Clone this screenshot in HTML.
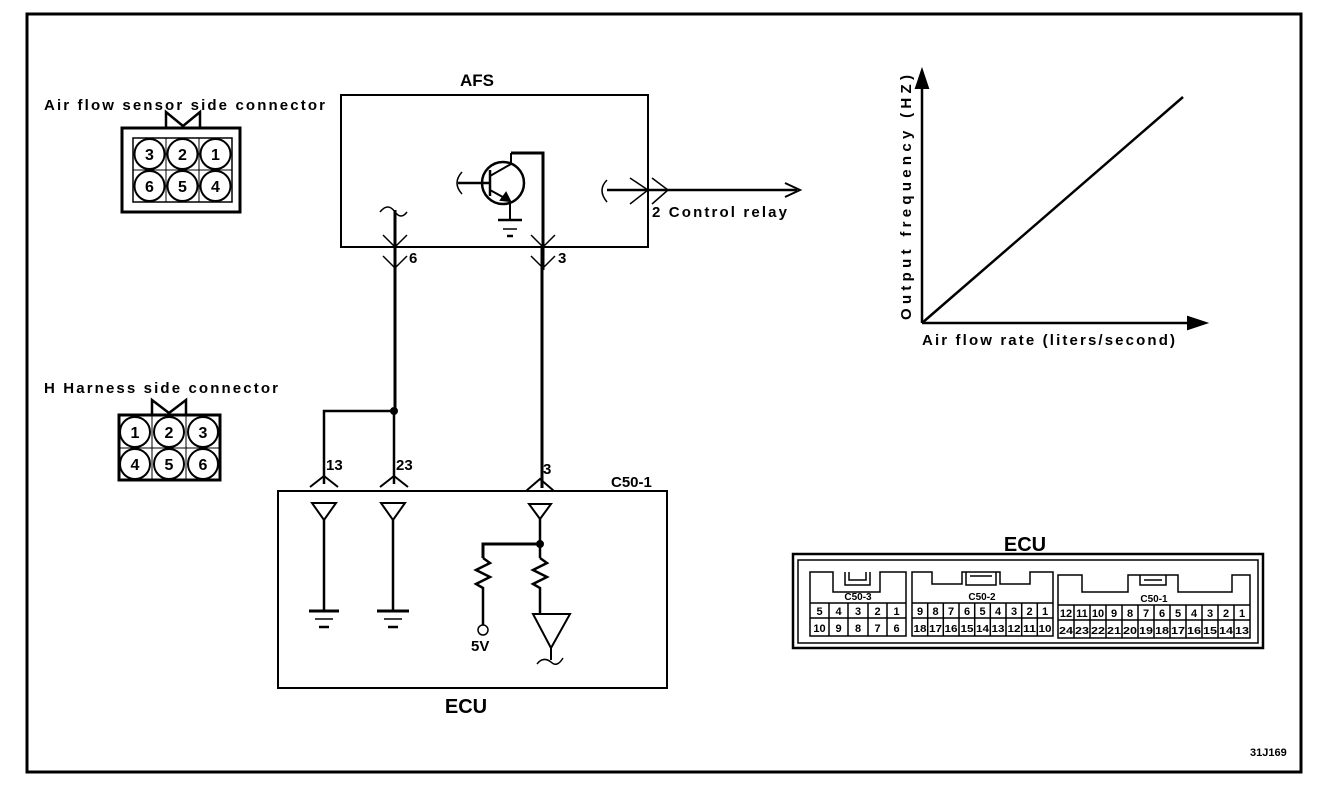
<!DOCTYPE html>
<html><head><meta charset="utf-8"><style>
html,body{margin:0;padding:0;background:#fff;}
svg{display:block;}
text{font-family:"Liberation Sans",sans-serif;font-weight:bold;fill:#000;}
</style></head><body>
<svg width="1344" height="786" viewBox="0 0 1344 786" xmlns="http://www.w3.org/2000/svg">
<g fill="none" stroke="#000" stroke-width="2">
<rect x="27" y="14" width="1274" height="758" stroke-width="3"/>

<rect x="122" y="128" width="118" height="84" stroke-width="3"/>
<rect x="133" y="138" width="99" height="64" stroke-width="1.5"/>
<line x1="166" y1="138" x2="166" y2="202" stroke-width="1"/>
<line x1="199" y1="138" x2="199" y2="202" stroke-width="1"/>
<line x1="133" y1="170" x2="232" y2="170" stroke-width="1"/>
<circle cx="149.5" cy="154" r="15"/><circle cx="182.5" cy="154" r="15"/><circle cx="215.5" cy="154" r="15"/>
<circle cx="149.5" cy="186" r="15"/><circle cx="182.5" cy="186" r="15"/><circle cx="215.5" cy="186" r="15"/>
<polyline points="166,128 166,112 183,126 200,112 200,128" stroke-width="2.5"/>

<rect x="119" y="415" width="101" height="65" stroke-width="3"/>
<line x1="152" y1="415" x2="152" y2="480" stroke-width="1"/>
<line x1="186" y1="415" x2="186" y2="480" stroke-width="1"/>
<line x1="119" y1="448" x2="220" y2="448" stroke-width="1"/>
<circle cx="135" cy="432" r="15"/><circle cx="169" cy="432" r="15"/><circle cx="203" cy="432" r="15"/>
<circle cx="135" cy="464" r="15"/><circle cx="169" cy="464" r="15"/><circle cx="203" cy="464" r="15"/>
<polyline points="152,415 152,400 169,413 186,400 186,415" stroke-width="2.5"/>

<rect x="341" y="95" width="307" height="152" stroke-width="2"/>
<circle cx="503" cy="183" r="21" stroke-width="2.5"/>
<line x1="458" y1="183" x2="490" y2="183" stroke-width="2.5"/>
<path d="M462,172 q-10,11 0,22" stroke-width="1.5"/>
<line x1="490" y1="170" x2="490" y2="196" stroke-width="2.5"/>
<line x1="490" y1="176" x2="511" y2="164" stroke-width="2"/>
<line x1="511" y1="164" x2="511" y2="153" stroke-width="2"/>
<polyline points="511,153 543,153 543,270" stroke-width="3"/>
<line x1="490" y1="190" x2="510" y2="201" stroke-width="2"/>
<polygon points="510,201 501,200 506,193" fill="#000"/>
<line x1="510" y1="201" x2="510" y2="220" stroke-width="2"/>
<line x1="498" y1="220" x2="522" y2="220" stroke-width="2.5"/>
<line x1="503" y1="229" x2="517" y2="229" stroke-width="1.5"/>
<line x1="507" y1="236" x2="513" y2="236" stroke-width="2.5"/>
<path d="M607,180 q-10,10 0,22" stroke-width="1.5"/>
<line x1="607" y1="190" x2="797" y2="190" stroke-width="2.5"/>
<polyline points="630,178 648,190 630,204" stroke-width="1.5"/>
<polyline points="652,178 668,190 652,204" stroke-width="1.5"/>
<polyline points="785,183 800,190 785,197" stroke-width="2"/>
<path d="M380,212 q8,-10 15,0 q6,8 12,0" stroke-width="1.5"/>
<line x1="395" y1="210" x2="395" y2="411" stroke-width="3"/>
<polyline points="383,235 395,247 407,235" stroke-width="1.5"/>
<polyline points="383,256 395,268 407,256" stroke-width="1.5"/>
<polyline points="531,235 543,247 555,235" stroke-width="1.5"/>
<polyline points="531,256 543,268 555,256" stroke-width="1.5"/>
<line x1="542" y1="247" x2="542" y2="488" stroke-width="3"/>

<circle cx="394" cy="411" r="3" fill="#000"/>
<polyline points="394,411 324,411 324,484" stroke-width="2.5"/>
<line x1="394" y1="411" x2="394" y2="484" stroke-width="2.5"/>
<polyline points="310,487 324,476 338,487" stroke-width="2"/>
<polyline points="380,487 394,476 408,487" stroke-width="2"/>
<polyline points="526,491 540,479 554,491" stroke-width="2"/>

<rect x="278" y="491" width="389" height="197" stroke-width="2"/>
<polygon points="312,503 336,503 324,520" stroke-width="2"/>
<polygon points="381,503 405,503 393,520" stroke-width="2"/>
<polygon points="529,504 551,504 540,519" stroke-width="2"/>
<line x1="324" y1="520" x2="324" y2="611" stroke-width="2.5"/>
<line x1="393" y1="520" x2="393" y2="611" stroke-width="2.5"/>
<line x1="309" y1="611" x2="339" y2="611" stroke-width="3"/>
<line x1="315" y1="619" x2="333" y2="619" stroke-width="1.5"/>
<line x1="319" y1="627" x2="329" y2="627" stroke-width="2.5"/>
<line x1="377" y1="611" x2="409" y2="611" stroke-width="3"/>
<line x1="384" y1="619" x2="402" y2="619" stroke-width="1.5"/>
<line x1="388" y1="627" x2="398" y2="627" stroke-width="2.5"/>
<line x1="540" y1="519" x2="540" y2="558" stroke-width="2.5"/>
<circle cx="540" cy="544" r="3" fill="#000"/>
<polyline points="540,544 483,544 483,558" stroke-width="3"/>
<polyline points="483,558 490,563 476,570 490,577 476,584 483,588 483,625" stroke-width="2.5"/>
<polyline points="540,558 547,563 533,570 547,577 533,584 540,588 540,614" stroke-width="2.5"/>
<circle cx="483" cy="630" r="5" stroke-width="1.5"/>
<polygon points="533,614 570,614 551,648" stroke-width="2"/>
<line x1="551" y1="648" x2="551" y2="660" stroke-width="2"/>
<path d="M537,664 q6,-8 14,-2 q6,6 12,-4" stroke-width="1.5"/>

<line x1="922" y1="80" x2="922" y2="323" stroke-width="2.5"/>
<polygon points="922,70 916,88 928,88" fill="#000"/>
<line x1="922" y1="323" x2="1195" y2="323" stroke-width="2.5"/>
<polygon points="1206,323 1188,317 1188,329" fill="#000"/>
<line x1="922" y1="323" x2="1183" y2="97" stroke-width="2.5"/>

<rect x="793" y="554" width="470" height="94" stroke-width="2.5"/>
<rect x="798" y="560" width="460" height="83" stroke-width="1.5"/>
<path d="M810,636 V572 H833 V592 H880 V572 H906 V636 Z" stroke-width="1.5"/>
<path d="M845,572 V585 H870 V572 M849,572 V580 H866 V572" stroke-width="1.5"/>
<path d="M912,636 V572 H932 V584 H962 V572 H1000 V584 H1030 V572 H1053 V636 Z" stroke-width="1.5"/>
<path d="M966,572 V585 H996 V572 M970,576 H992" stroke-width="1.5"/>
<path d="M1058,638 V575 H1082 V592 H1128 V575 H1178 V592 H1232 V575 H1250 V638 Z" stroke-width="1.5"/>
<path d="M1140,575 V585 H1166 V575 M1144,580 H1162" stroke-width="1.5"/>
<g stroke-width="1.5">
<line x1="810" y1="603" x2="906" y2="603"/><line x1="810" y1="618" x2="906" y2="618"/>
<line x1="912" y1="603" x2="1053" y2="603"/><line x1="912" y1="618" x2="1053" y2="618"/>
<line x1="1058" y1="605" x2="1250" y2="605"/><line x1="1058" y1="620" x2="1250" y2="620"/>
</g>
<g stroke-width="1.5">
<line x1="829" y1="603" x2="829" y2="636"/><line x1="848" y1="603" x2="848" y2="636"/><line x1="868" y1="603" x2="868" y2="636"/><line x1="887" y1="603" x2="887" y2="636"/>
<line x1="927.7" y1="603" x2="927.7" y2="636"/><line x1="943.3" y1="603" x2="943.3" y2="636"/><line x1="959" y1="603" x2="959" y2="636"/><line x1="974.7" y1="603" x2="974.7" y2="636"/><line x1="990.3" y1="603" x2="990.3" y2="636"/><line x1="1006" y1="603" x2="1006" y2="636"/><line x1="1021.7" y1="603" x2="1021.7" y2="636"/><line x1="1037.3" y1="603" x2="1037.3" y2="636"/>
<line x1="1074" y1="605" x2="1074" y2="638"/><line x1="1090" y1="605" x2="1090" y2="638"/><line x1="1106" y1="605" x2="1106" y2="638"/><line x1="1122" y1="605" x2="1122" y2="638"/><line x1="1138" y1="605" x2="1138" y2="638"/><line x1="1154" y1="605" x2="1154" y2="638"/><line x1="1170" y1="605" x2="1170" y2="638"/><line x1="1186" y1="605" x2="1186" y2="638"/><line x1="1202" y1="605" x2="1202" y2="638"/><line x1="1218" y1="605" x2="1218" y2="638"/><line x1="1234" y1="605" x2="1234" y2="638"/>
</g>
</g>

<g font-size="15">
<text x="44" y="110" textLength="281" lengthAdjust="spacing">Air flow sensor side connector</text>
<text x="44" y="393" textLength="234" lengthAdjust="spacing">H Harness side connector</text>
</g>
<g font-size="16" text-anchor="middle">
<text x="149.5" y="160">3</text><text x="182.5" y="160">2</text><text x="215.5" y="160">1</text>
<text x="149.5" y="192">6</text><text x="182.5" y="192">5</text><text x="215.5" y="192">4</text>
<text x="135" y="438">1</text><text x="169" y="438">2</text><text x="203" y="438">3</text>
<text x="135" y="470">4</text><text x="169" y="470">5</text><text x="203" y="470">6</text>
</g>
<text x="477" y="86" font-size="17" text-anchor="middle">AFS</text>
<text x="652" y="217" font-size="15" textLength="135" lengthAdjust="spacing">2 Control relay</text>
<text x="409" y="263" font-size="15">6</text>
<text x="558" y="263" font-size="15">3</text>
<text x="326" y="470" font-size="15">13</text>
<text x="396" y="470" font-size="15">23</text>
<text x="543" y="474" font-size="15">3</text>
<text x="611" y="487" font-size="15">C50-1</text>
<text x="471" y="651" font-size="15">5V</text>
<text x="466" y="713" font-size="20" text-anchor="middle">ECU</text>
<text x="1025" y="551" font-size="20" text-anchor="middle">ECU</text>
<text x="922" y="345" font-size="15" textLength="253" lengthAdjust="spacing">Air flow rate (liters/second)</text>
<text transform="translate(911,320) rotate(-90)" font-size="15" textLength="245" lengthAdjust="spacing">Output frequency (HZ)</text>
<text x="1250" y="756" font-size="11">31J169</text>

<g font-size="10" text-anchor="middle">
<text x="858" y="600">C50-3</text><text x="982" y="600">C50-2</text><text x="1154" y="602">C50-1</text>
</g>
<g font-size="11" text-anchor="middle">
<text x="819.5" y="615">5</text><text x="838.5" y="615">4</text><text x="858" y="615">3</text><text x="877.5" y="615">2</text><text x="896.5" y="615">1</text>
<text x="819.5" y="632">10</text><text x="838.5" y="632">9</text><text x="858" y="632">8</text><text x="877.5" y="632">7</text><text x="896.5" y="632">6</text>
<text x="920" y="615">9</text><text x="935.5" y="615">8</text><text x="951" y="615">7</text><text x="967" y="615">6</text><text x="982.5" y="615">5</text><text x="998" y="615">4</text><text x="1014" y="615">3</text><text x="1029.5" y="615">2</text><text x="1045" y="615">1</text>
<text x="1066" y="617">12</text><text x="1082" y="617">11</text><text x="1098" y="617">10</text><text x="1114" y="617">9</text><text x="1130" y="617">8</text><text x="1146" y="617">7</text><text x="1162" y="617">6</text><text x="1178" y="617">5</text><text x="1194" y="617">4</text><text x="1210" y="617">3</text><text x="1226" y="617">2</text><text x="1242" y="617">1</text>
</g>
<g font-size="10" text-anchor="middle">
<text x="920" y="632" textLength="13" lengthAdjust="spacingAndGlyphs">18</text><text x="935.5" y="632" textLength="13" lengthAdjust="spacingAndGlyphs">17</text><text x="951" y="632" textLength="13" lengthAdjust="spacingAndGlyphs">16</text><text x="967" y="632" textLength="13" lengthAdjust="spacingAndGlyphs">15</text><text x="982.5" y="632" textLength="13" lengthAdjust="spacingAndGlyphs">14</text><text x="998" y="632" textLength="13" lengthAdjust="spacingAndGlyphs">13</text><text x="1014" y="632" textLength="13" lengthAdjust="spacingAndGlyphs">12</text><text x="1029.5" y="632" textLength="13" lengthAdjust="spacingAndGlyphs">11</text><text x="1045" y="632" textLength="13" lengthAdjust="spacingAndGlyphs">10</text>
<text x="1066" y="634" textLength="14" lengthAdjust="spacingAndGlyphs">24</text><text x="1082" y="634" textLength="14" lengthAdjust="spacingAndGlyphs">23</text><text x="1098" y="634" textLength="14" lengthAdjust="spacingAndGlyphs">22</text><text x="1114" y="634" textLength="14" lengthAdjust="spacingAndGlyphs">21</text><text x="1130" y="634" textLength="14" lengthAdjust="spacingAndGlyphs">20</text><text x="1146" y="634" textLength="14" lengthAdjust="spacingAndGlyphs">19</text><text x="1162" y="634" textLength="14" lengthAdjust="spacingAndGlyphs">18</text><text x="1178" y="634" textLength="14" lengthAdjust="spacingAndGlyphs">17</text><text x="1194" y="634" textLength="14" lengthAdjust="spacingAndGlyphs">16</text><text x="1210" y="634" textLength="14" lengthAdjust="spacingAndGlyphs">15</text><text x="1226" y="634" textLength="14" lengthAdjust="spacingAndGlyphs">14</text><text x="1242" y="634" textLength="14" lengthAdjust="spacingAndGlyphs">13</text>
</g>
</svg>
</body></html>
